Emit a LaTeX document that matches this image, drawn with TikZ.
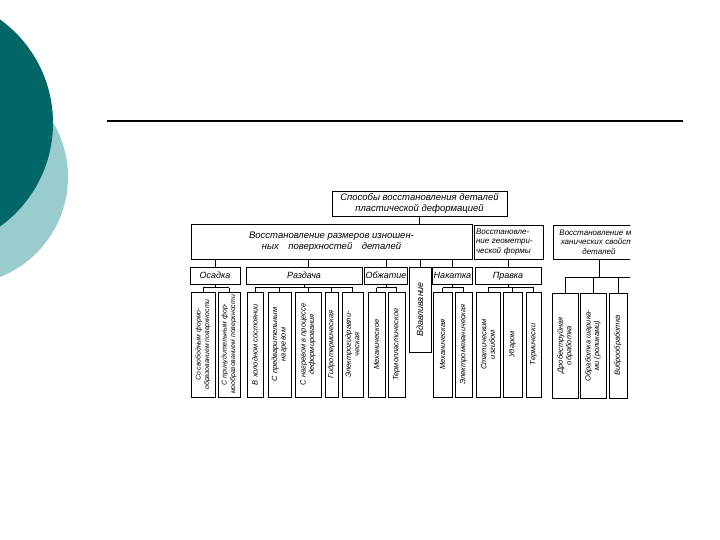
\documentclass[tikz,border=0pt]{standalone}
\usepackage{fontspec}
\setmainfont{Liberation Sans}
\definecolor{tealdark}{RGB}{0,102,102}
\definecolor{teallight}{RGB}{153,204,204}
\usetikzlibrary{positioning}
\tikzset{
  box/.style={draw, line width=0.9pt, inner sep=1pt, align=center, font=\itshape\fontsize{9.5}{11}\selectfont},
  method/.style={draw, line width=0.9pt, inner sep=1pt, minimum height=17pt, text height=7pt, text depth=2pt, font=\itshape\fontsize{9}{10}\selectfont},
  leaf/.style={draw, line width=0.9pt, inner sep=1pt, rotate=90, minimum width=105pt, align=center, font=\itshape\fontsize{7.5}{8.5}\selectfont},
  small/.style={font=\itshape\fontsize{6.9}{8.5}\selectfont},
  link/.style={line width=0.9pt},
}

\begin{document}
\begin{tikzpicture}[x=1pt, y=-1pt]
  \useasboundingbox (0,0) rectangle (720,540);
  \clip (0,0) rectangle (720,540);
  \fill[teallight] (-39.5,177) circle[radius=107.5pt];
  \fill[tealdark] (-74.6,123) circle[radius=127.6pt];
  \draw[line width=1.2pt] (107,121) -- (683,121);

  \begin{scope}
    \clip (0,150) rectangle (630,420);
    \node[box, minimum width=175pt, minimum height=25pt] (top) at (419.5,203.5)
      {Способы восстановления деталей\\пластической деформацией};
    \node[box, minimum width=281pt, minimum height=35pt] (sizes) at (331.5,241.5)
      {Восстановление размеров изношен-\\ных\quad поверхностей\quad деталей};
    \node[box, minimum width=69pt, minimum height=34pt, text width=65pt, align=left, font=\itshape\fontsize{8}{9.5}\selectfont] (shape) at (508.5,242)
      {Восстановле-\\ние геометри-\\ческой формы};
    \node[box, minimum width=92pt, minimum height=34pt, text width=88pt, font=\itshape\fontsize{8}{9.5}\selectfont] (props) at (599,242)
      {Восстановление ме-\\ханических свойств\\деталей};

    \node[method, minimum width=50pt] (osadka) at (215,275.5) {Осадка};
    \node[method, minimum width=116pt] (razdacha) at (304,275.5) {Раздача};
    \node[method, minimum width=40pt] (obzhatie) at (386,275.5) {Обжатие};
    \node[method, minimum width=39pt] (nakatka) at (452.5,275.5) {Накатка};
    \node[method, minimum width=66pt] (pravka) at (508,275.5) {Правка};
    \node[leaf, minimum width=85pt, minimum height=22pt, font=\itshape\fontsize{9}{10}\selectfont] (vdav) at (420,309.5) {Вдавливание};

    \node[leaf, small, minimum height=24pt] (l1) at (203,344.5) {Со свободным формо-\\образованием поверхности};
    \node[leaf, small, minimum height=22pt] (l2) at (229,344.5) {С принудительным фор-\\мообразованием поверхности};
    \node[leaf, minimum height=16pt] (l3) at (255,344.5) {В холодном состоянии};
    \node[leaf, minimum height=23pt] (l4) at (279.5,344.5) {С предварительным\\нагревом};
    \node[leaf, minimum height=26pt] (l5) at (308,344.5) {С нагревом в процессе\\деформирования};
    \node[leaf, minimum height=13pt] (l6) at (331.5,344.5) {Гидротермическая};
    \node[leaf, minimum height=21pt] (l7) at (352.5,344.5) {Электрогидравли-\\ческая};
    \node[leaf, minimum height=17pt] (l8) at (376.5,344.5) {Механическое};
    \node[leaf, minimum height=17pt] (l9) at (396.5,344.5) {Термопластическое};
    \node[leaf, minimum height=19pt] (l10) at (442.5,344.5) {Механическая};
    \node[leaf, minimum height=17pt] (l11) at (463.5,344.5) {Электромеханическая};
    \node[leaf, minimum height=24pt] (l12) at (488,344.5) {Статическим\\изгибом};
    \node[leaf, minimum height=19pt] (l13) at (512.5,344.5) {Ударом};
    \node[leaf, minimum height=15pt] (l14) at (533.5,344.5) {Термически};
    \node[leaf, minimum height=26pt] (l15) at (565,345.5) {Дробеструйная\\обработка};
    \node[leaf, minimum height=26pt] (l16) at (593,345.5) {Обработка шарика-\\ми (роликами)};
    \node[leaf, minimum height=18pt] (l17) at (618,345.5) {Виброобработка};

    \draw[link] (top.south) -- (top.south |- sizes.north);
    \draw[link] (osadka.north) -- (osadka.north |- sizes.south);
    \draw[link] (razdacha.north -| l5.east) -- (sizes.south -| l5.east);
    \draw[link] (obzhatie.north) -- (obzhatie.north |- sizes.south);
    \draw[link] (vdav.east) -- (vdav.east |- sizes.south);
    \draw[link] (nakatka.north) -- (nakatka.north |- sizes.south);
    \draw[link] (pravka.north) -- (pravka.north |- shape.south);

    \foreach \p/\a/\b/\kids in {osadka/l1/l2/{l1,l2}, razdacha/l3/l7/{l3,l4,l5,l6,l7},
        obzhatie/l8/l9/{l8,l9}, nakatka/l10/l11/{l10,l11}, pravka/l12/l14/{l12,l13,l14}}{
      \draw[link] (\a.east) ++(0,-4) coordinate (bus) -- (\b.east |- bus);
      \draw[link] (\p.south) -- (\p.south |- bus);
      \foreach \k in \kids \draw[link] (\k.east) -- (\k.east |- bus);
    }

    \coordinate (cut) at (640,277);
    \draw[link] (props.south) -- (props.south |- cut);
    \draw[link] (l15.east |- cut) -- (cut);
    \foreach \k in {l15,l16,l17} \draw[link] (\k.east) -- (\k.east |- cut);
  \end{scope}
\end{tikzpicture}
\end{document}
